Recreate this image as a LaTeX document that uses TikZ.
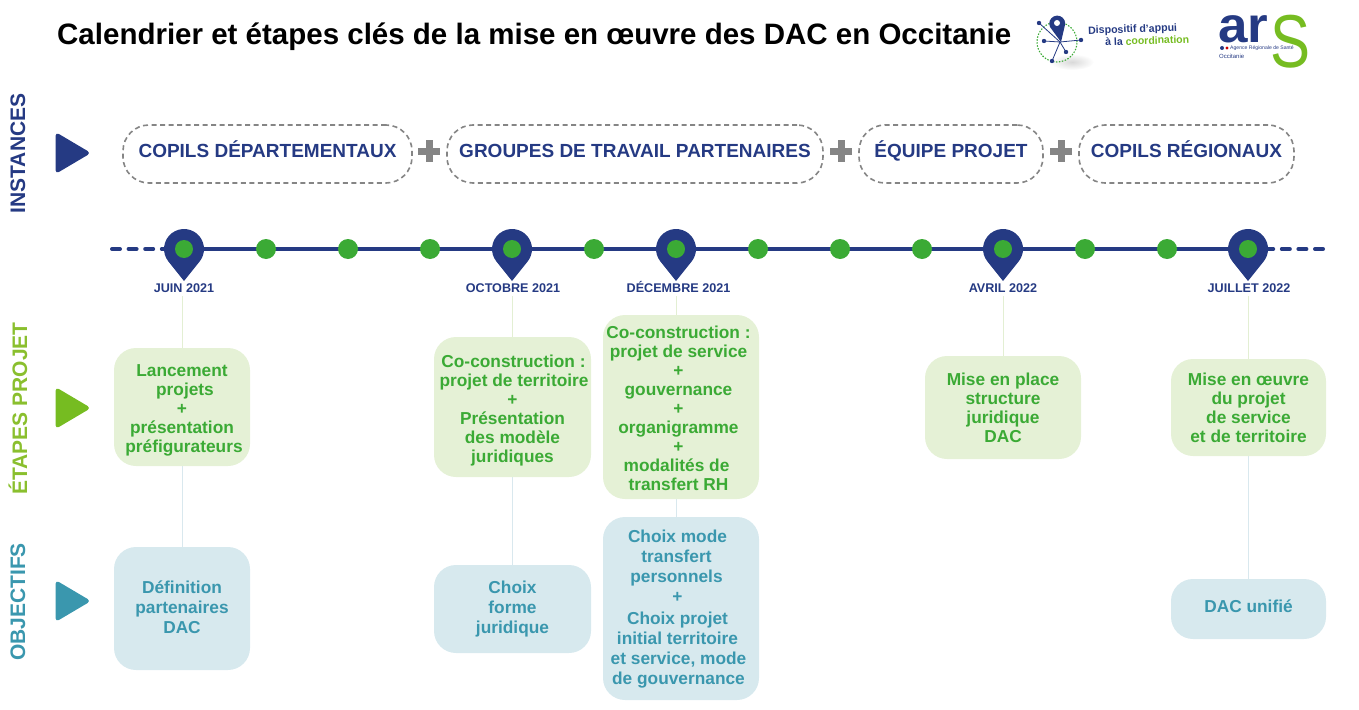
\documentclass[tikz,border=0pt]{standalone}
\usepackage{fontspec}
\setmainfont{Liberation Sans}
\definecolor{navy}{HTML}{253A83}
\definecolor{dotgreen}{HTML}{3BAA35}
\definecolor{lgreen}{HTML}{E5F1D6}
\definecolor{teal2}{HTML}{3A97AE}
\definecolor{lteal}{HTML}{D7E9EE}
\definecolor{agreen}{HTML}{76BC21}
\definecolor{lgr}{HTML}{8ABF2E}
\definecolor{gry}{HTML}{858585}
\definecolor{stemg}{HTML}{E3EFD3}
\definecolor{stemb}{HTML}{D9E8EE}
\usetikzlibrary{calc}
\tikzset{
  x=1pt,y=-1pt,
  pillbox/.style={draw=gry,line width=1.6pt,dash pattern=on 5pt off 3.5pt,rounded corners=26pt,font=\bfseries\fontsize{19}{22}\selectfont,text=navy,align=center,inner sep=0pt},
  etape/.style={fill=lgreen,rounded corners=22pt,text=dotgreen,font=\bfseries\fontsize{17.3}{19}\selectfont,align=center,inner sep=0pt},
  objectif/.style={fill=lteal,rounded corners=22pt,text=teal2,font=\bfseries\fontsize{17.3}{20}\selectfont,align=center,inner sep=0pt},
  datelabel/.style={font=\bfseries\fontsize{12.6}{14}\selectfont,text=navy,inner sep=0pt,anchor=base},
  sidelabel/.style={font=\bfseries\fontsize{21}{24}\selectfont,rotate=90,inner sep=0pt},
  dotnode/.style={circle,fill=dotgreen,minimum size=20pt,inner sep=0pt},
  stema/.style={draw=stemg,line width=0.8pt},
  stemc/.style={draw=stemb,line width=0.8pt},
  tline/.style={draw=navy,line width=4pt},
}
\newcommand{\boxat}[7]{\node[#1,minimum width=#4pt-#3pt,minimum height=#6pt-#5pt] (#2) at ({(#3+#4)/2},{(#5+#6)/2}) {#7};}
\newcommand{\pillat}[6]{\node[pillbox,minimum width=#3pt-#2pt,minimum height=#5pt-#4pt] (#1) at ({(#2+#3)/2},{(#4+#5)/2}) {\raisebox{-3.5pt}[0pt][0pt]{#6}};}
\newcommand{\pin}[2]{%
  \fill[navy] (#1-15.6,#2+12.5) arc[start angle=218.7,end angle=-38.7,radius=20pt] -- (#1,#2+32) -- cycle;
  \fill[dotgreen] (#1,#2) circle[radius=9pt];}
\newcommand{\tri}[2]{\fill[#2,rounded corners=4pt] (55.5,#1-21) -- (91,#1) -- (55.5,#1+21) -- cycle;}
\newcommand{\plusm}[1]{\fill[gry] (#1-11,147.5) rectangle (#1+11,154.5);\fill[gry] (#1-3.5,140) rectangle (#1+3.5,162);}
% first-line strut: moves a centred block down by half of (#1 - 12.6pt)
\newcommand{\topstrut}[1]{\rule{0pt}{#1pt}}
\begin{document}
\begin{tikzpicture}
\useasboundingbox (0,0) rectangle (1359,709);
% title
\node[font=\bfseries\fontsize{29.5}{32}\selectfont,anchor=base west,inner sep=0pt] (title) at (57,45) {Calendrier et étapes clés de la mise en œuvre des DAC en Occitanie};
% logo DAC
\shade[inner color=gray!30,outer color=white] (1072,62) ellipse[x radius=22pt,y radius=8pt];
\draw[dotgreen,line width=1.1pt,dash pattern=on 1.5pt off 1.5pt] (1057,42) circle[radius=20pt];
\coordinate (hub) at (1060,42);
\foreach \p in {(1039,23),(1044,41),(1081,40),(1066,52),(1052,61)}{
  \draw[navy,line width=0.8pt] (hub) -- \p;
  \fill[navy] \p circle[radius=2.2pt];}
\fill[navy] (1050,27) arc[start angle=205,end angle=-25,radius=8pt] -- (1061,42) -- cycle;
\fill[white] (1057,23) circle[radius=3pt];
\node[rotate=2,anchor=west,inner sep=0pt,font=\bfseries\fontsize{10.6}{13}\selectfont,text=navy] (logoa) at (1088,31.5) {Dispositif d'appui};
\node[rotate=2,anchor=west,inner sep=0pt,font=\bfseries\fontsize{10.5}{13}\selectfont,text=navy] (logoc) at (1105,42) {à la \textcolor{agreen}{coordination}};
% logo ARS
\node[anchor=base west,inner sep=0pt,xscale=1.06,font=\bfseries\fontsize{50}{50}\selectfont,text=navy] (arsa) at (1218,43) {ar};
\node[anchor=base west,inner sep=0pt,xscale=.8,font=\fontsize{75}{75}\selectfont,text=agreen] (arsb) at (1270,67) {S};
\fill[navy] (1222,48) circle[radius=2pt];
\fill[red!80!black] (1227,48) circle[radius=1.6pt];
\node[anchor=west,inner sep=0pt,font=\fontsize{5.1}{7}\selectfont,text=navy] (arsc) at (1230,48) {Agence Régionale de Santé};
\node[anchor=west,inner sep=0pt,font=\fontsize{6}{7}\selectfont,text=navy] (arsd) at (1219,56) {Occitanie};
% side
\node[sidelabel,text=navy] (sa) at (18,153.5) {INSTANCES};
\node[sidelabel,text=lgr] (sb) at (18,408.5) {ÉTAPES PROJET};
\node[sidelabel,text=teal2] (sc) at (18,602) {OBJECTIFS};
\tri{153}{navy}\tri{408}{agreen}\tri{601}{teal2}
% pills
\pillat{p1}{123}{412}{125}{183}{COPILS DÉPARTEMENTAUX}
\pillat{p2}{447}{823}{125}{183}{GROUPES DE TRAVAIL PARTENAIRES}
\pillat{p3}{859}{1043}{125}{183}{ÉQUIPE PROJET}
\pillat{p4}{1079}{1294}{125}{183}{COPILS RÉGIONAUX}
\plusm{429}\plusm{841}\plusm{1061}
% stems
\coordinate (d1) at (182.5,296);\coordinate (d2) at (512.5,296);\coordinate (d3) at (676,296);\coordinate (d4) at (1003,296);\coordinate (d5) at (1248,296);
\coordinate (e1) at (182.5,466);\coordinate (e2) at (512.5,477);\coordinate (e3) at (676,499);\coordinate (e5) at (1248,456);
\coordinate (o1) at (182.5,547);\coordinate (o2) at (512.5,565);\coordinate (o3) at (676,517);\coordinate (o5) at (1248,579);
\draw[stema] (d1) -- (182.5,348);\draw[stema] (d2) -- (512.5,337);\draw[stema] (d3) -- (676,315);\draw[stema] (d4) -- (1003,356);\draw[stema] (d5) -- (1248,359);
\draw[stemc] (e1) -- (o1);\draw[stemc] (e2) -- (o2);\draw[stemc] (e3) -- (o3);\draw[stemc] (e5) -- (o5);
% timeline
\coordinate (la) at (112,249);\coordinate (lb) at (184,249);\coordinate (lc) at (1248,249);\coordinate (ld) at (1323,249);\coordinate (le) at (1262,249);
\draw[tline,line cap=round,dash pattern=on 8pt off 8.6pt] (la) -- (lb);
\draw[tline] (lb) -- (lc);
\draw[tline,line cap=round,dash pattern=on 8pt off 8.6pt] (ld) -- (le);
\foreach \x [count=\i] in {266,348,430,594,758,840,922,1085,1167}{\node[dotnode] (g\i) at (\x,249) {};}
\pin{184}{249}\pin{512}{249}\pin{676}{249}\pin{1003}{249}\pin{1248}{249}
\node[datelabel] (t1) at (184,292.5) {JUIN 2021};
\node[datelabel] (t2) at (513,292.5) {OCTOBRE 2021};
\node[datelabel] (t3) at (678.5,292.5) {DÉCEMBRE 2021};
\node[datelabel] (t4) at (1003,292.5) {AVRIL 2022};
\node[datelabel] (t5) at (1249,292.5) {JUILLET 2022};
% etapes
\boxat{etape}{e-a}{114}{250}{348}{466}{\topstrut{19}Lancement\\\hspace*{6pt}projets\\+\\présentation\\\hspace*{4pt}préfigurateurs}
\boxat{etape}{e-b}{434}{591}{337}{477}{\topstrut{19.6}\hspace*{2pt}Co-construction :\\\hspace*{3pt}projet de territoire\\+\\Présentation\\des modèle\\juridiques}
\boxat{etape}{e-c}{603}{759}{315}{499}{\topstrut{15.6}\hspace*{-5pt}Co-construction :\\\hspace*{-5pt}projet de service\\\hspace*{-5pt}+\\\hspace*{-5pt}gouvernance\\\hspace*{-5pt}+\\\hspace*{-5pt}organigramme\\\hspace*{-5pt}+\\\hspace*{-9pt}modalités de\\\hspace*{-5pt}transfert RH}
\boxat{etape}{e-d}{925}{1081}{356}{459}{\topstrut{13.6}Mise en place\\structure\\juridique\\DAC}
\boxat{etape}{e-e}{1171}{1326}{359}{456}{\topstrut{13.6}Mise en œuvre\\du projet\\de service\\et de territoire}
% objectifs
\boxat{objectif}{o-a}{114}{250}{547}{670}{Définition\\partenaires\\DAC\rule[-2pt]{0pt}{0pt}}
\boxat{objectif}{o-b}{434}{591}{565}{653}{Choix\\forme\\juridique}
\boxat{objectif}{o-c}{603}{759}{517}{700}{\topstrut{14.6}\hspace*{-7pt}Choix mode\\\hspace*{-9pt}transfert\\\hspace*{-9pt}personnels\\\hspace*{-7pt}+\\[2pt]\hspace*{-7pt}Choix projet\\\hspace*{-7pt}initial territoire\\\hspace*{-5pt}et service, mode\\\hspace*{-5pt}de gouvernance}
\boxat{objectif}{o-e}{1171}{1326}{579}{639}{DAC unifié\rule[-6pt]{0pt}{0pt}}
\end{tikzpicture}
\end{document}
